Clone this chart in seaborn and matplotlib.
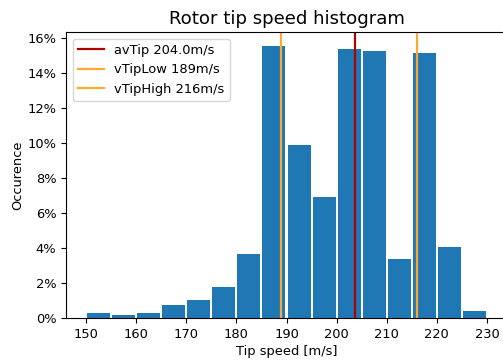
import matplotlib
matplotlib.use("Agg")
import matplotlib.pyplot as plt
from matplotlib.ticker import PercentFormatter
import seaborn as sns
import pandas as pd

# Data
bin_edges = [150, 155, 160, 165, 170, 175, 180, 185, 190, 195, 200, 205, 210, 215, 220, 225, 230]
bin_centers = [152.5, 157.5, 162.5, 167.5, 172.5, 177.5, 182.5, 187.5, 192.5, 197.5,
               202.5, 207.5, 212.5, 217.5, 222.5, 227.5]
occurrence_pct = [0.30, 0.17, 0.30, 0.74, 1.03, 1.77, 3.66, 15.54, 9.90, 6.90,
                  15.37, 15.26, 3.37, 15.14, 4.05, 0.40]

av_tip = 203.6
v_tip_low = 188.9
v_tip_high = 216.0
line_labels = ["avTip 204.0m/s", "vTipLow 189m/s", "vTipHigh 216m/s"]

df = pd.DataFrame({"speed": bin_centers, "pct": occurrence_pct})

plt.rcParams['font.family'] = ['DejaVu Sans']
fig = plt.figure(figsize=(5.03, 3.60), dpi=100)
ax = fig.add_axes([66 / 503, 42 / 360, 441 / 503, 286 / 360])

sns.histplot(data=df, x="speed", weights="pct", bins=bin_edges, shrink=0.92,
             color="#1f77b4", alpha=1.0, edgecolor="none", linewidth=0, ax=ax)

ax.axvline(av_tip, color="#b00000", lw=1.6, label=line_labels[0])
ax.axvline(v_tip_low, color="#ffa830", lw=1.6, label=line_labels[1])
ax.axvline(v_tip_high, color="#ffa830", lw=1.6, label=line_labels[2])

ax.set_xlim(146, 234)
ax.set_ylim(0, 16.32)
ax.set_xticks([150, 160, 170, 180, 190, 200, 210, 220, 230])
ax.set_yticks([0, 2, 4, 6, 8, 10, 12, 14, 16])
ax.yaxis.set_major_formatter(PercentFormatter(xmax=100, decimals=0))
ax.tick_params(labelsize=9.4)
ax.spines['right'].set_visible(False)

ax.set_xlabel("Tip speed [m/s]", fontsize=9.4, labelpad=3)
ax.set_ylabel("Occurence", fontsize=9.4, labelpad=2)
ax.set_title("Rotor tip speed histogram", fontsize=13.1)

ax.legend(loc="upper left", fontsize=9.4)

fig.savefig("out.png", dpi=100)
